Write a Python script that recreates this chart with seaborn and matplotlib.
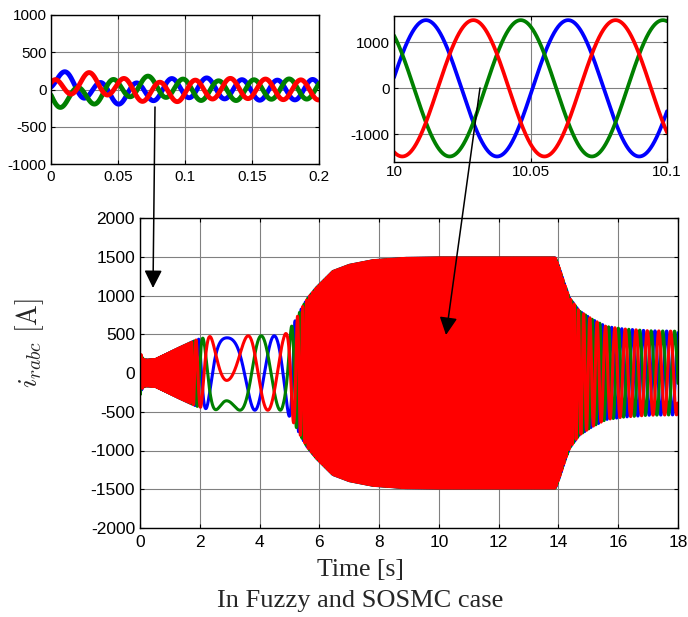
import numpy as np
import pandas as pd
import matplotlib
matplotlib.use("Agg")
import matplotlib.pyplot as plt
import seaborn as sns
from matplotlib.patches import FancyArrowPatch

# ---- data ----
# envelope of the rotor currents in the main plot
env_t = [0, 0.5, 0.85, 1.3, 1.9, 2.3, 3.0, 4.8, 5.0, 5.2, 5.4, 5.6, 5.9, 6.45, 7.0, 7.8,
         8.9, 10.0, 13.9, 14.03, 14.2, 14.37, 14.7, 15.14, 15.6, 16.15, 17.0, 18.0]
env_a = [160, 170, 235, 320, 430, 470, 480, 480, 560, 680, 830, 960, 1100, 1310, 1390, 1450,
         1480, 1485, 1485, 1350, 1150, 970, 800, 690, 600, 570, 545, 540]

# slip frequency (sign gives the phase sequence)
freq_t = [0, 0.4, 0.8, 1.2, 1.5, 1.7, 1.85, 2.0, 2.15, 2.3, 2.5, 2.7, 2.9, 3.1, 3.4, 3.8,
          4.2, 4.6, 4.9, 5.1, 5.3, 5.6, 6.0, 7.0, 8.0, 9.0, 10.0, 13.9, 14.1, 14.4, 14.7,
          15.0, 15.5, 16.0, 17.0, 18.0]
freq_hz = [-38, -38, -34, -25, -16, -10, -5, -2.6, -1.6, -1.1, -0.7, -0.35, 0, 0.25, 0.55, 0.8,
           0.75, 0.8, 1.1, 2.5, 5, 9, 12, 16, 18, 19, 19.2, 19.2, 15, 9, 6,
           4.5, 3.4, 2.9, 2.6, 2.5]
t_turn = 2.9          # where the sequence reverses
theta_turn_deg = 108.5

# start-up transient (decaying offset per phase)
tr_amp = 150
tr_tau = 0.06
tr_freq = 9.0
tr_shift_deg = {'a': 0, 'b': -100, 'c': 120}

# zoom 1: 0 .. 0.2 s
inset1_amp = 135
inset1_freq = -38
inset1_theta0_deg = 240.6

# zoom 2: 10 .. 10.1 s
inset2_amp = 1480
inset2_freq = 19.2
inset2_blue_peak = 10.0117

phase_order = ['a', 'c', 'b']          # blue, green, red (red on top)
phase_colors = {'a': '#0000ff', 'b': '#ff0000', 'c': '#008000'}
phase_shift_deg = {'a': 0, 'b': -120, 'c': 120}


def three_phase(t, theta, amp, transient=False):
    frames = []
    for name in phase_order:
        y = amp * np.sin(theta + np.deg2rad(phase_shift_deg[name]))
        if transient:
            y = y + tr_amp * np.exp(-t / tr_tau) * np.cos(2 * np.pi * tr_freq * t + np.deg2rad(tr_shift_deg[name]))
        frames.append(pd.DataFrame({'t': t, 'i': y, 'phase': name}))
    return pd.concat(frames, ignore_index=True)


# main signal
t_main = np.linspace(0, 18, 90001)
f_main = np.interp(t_main, freq_t, freq_hz)
cycles = np.concatenate([[0], np.cumsum((f_main[1:] + f_main[:-1]) / 2 * np.diff(t_main))])
cycles -= np.interp(t_turn, t_main, cycles)
theta_main = np.deg2rad(theta_turn_deg) + 2 * np.pi * cycles
df_main = three_phase(t_main, theta_main, np.interp(t_main, env_t, env_a), transient=True)

t1 = np.linspace(0, 0.2, 4001)
df_1 = three_phase(t1, np.deg2rad(inset1_theta0_deg) + 2 * np.pi * inset1_freq * t1,
                   inset1_amp, transient=True)

t2 = np.linspace(10, 10.1, 2001)
df_2 = three_phase(t2, np.pi / 2 + 2 * np.pi * inset2_freq * (t2 - inset2_blue_peak), inset2_amp)

# ---- style ----
sns.set_theme(style="ticks")
plt.rcParams['font.family'] = ['Liberation Sans', 'DejaVu Sans']
plt.rcParams['axes.unicode_minus'] = False
plt.rcParams['mathtext.fontset'] = 'cm'
plt.rcParams['xtick.direction'] = 'in'
plt.rcParams['ytick.direction'] = 'in'
plt.rcParams['xtick.top'] = True
plt.rcParams['ytick.right'] = True

W, H = 688, 617
fig = plt.figure(figsize=(W / 100, H / 100), dpi=100)


def box(left, top, right, bottom):
    return [left / W, 1 - bottom / H, (right - left) / W, (bottom - top) / H]


def style_axes(ax, size, xpad, ypad):
    ax.grid(True, color='#808080', lw=0.8)
    ax.set_axisbelow(True)
    for s in ax.spines.values():
        s.set_color('black')
        s.set_linewidth(1.0)
    ax.tick_params(axis='both', colors='black', labelsize=size, length=3, width=0.8)
    ax.tick_params(axis='x', pad=xpad)
    ax.tick_params(axis='y', pad=ypad)
    ax.set_xlabel('')
    ax.set_ylabel('')


ax = fig.add_axes(box(140, 218, 678, 528))
ax1 = fig.add_axes(box(51, 15, 319, 164))
ax2 = fig.add_axes(box(394, 16, 667, 162))

for a, df, lw in [(ax, df_main, 2.2), (ax1, df_1, 3.5), (ax2, df_2, 2.7)]:
    sns.lineplot(data=df, x='t', y='i', hue='phase', hue_order=phase_order,
                 palette=phase_colors, estimator=None, sort=False, lw=lw,
                 legend=False, ax=a)

ax.set_xlim(0, 18)
ax.set_ylim(-2000, 2000)
ax.set_xticks(range(0, 19, 2))
ax.set_yticks(range(-2000, 2001, 500))
style_axes(ax, 12.5, 5, 3.6)

ax1.set_xlim(0, 0.2)
ax1.set_ylim(-1000, 1000)
ax1.set_xticks([0, 0.05, 0.1, 0.15, 0.2])
ax1.set_xticklabels(['0', '0.05', '0.1', '0.15', '0.2'])
ax1.set_yticks(range(-1000, 1001, 500))
style_axes(ax1, 11, 4.5, 3)

ax2.set_xlim(10, 10.1)
ax2.set_ylim(-1600, 1570)
ax2.set_xticks([10, 10.05, 10.1])
ax2.set_xticklabels(['10', '10.05', '10.1'])
ax2.set_yticks([-1000, 0, 1000])
style_axes(ax2, 11, 2, 3)

# labels
fig.text(30 / W, 1 - 343 / H, r'$i_{rabc}\ [\mathrm{A}]$', rotation=90,
         ha='center', va='center', fontsize=20)
fig.text(360 / W, 1 - 576 / H, 'Time [s]', ha='center', va='baseline',
         fontsize=18.5, family='Liberation Serif')
fig.text(360 / W, 1 - 607 / H, 'In Fuzzy and SOSMC case', ha='center', va='baseline',
         fontsize=19, family='Liberation Serif')

# arrows from the zooms down to the main plot
for (x0, y0), (x1, y1) in [((155, 107), (153, 288)), ((480, 88), (446, 335))]:
    fig.add_artist(FancyArrowPatch((x0 / W, 1 - y0 / H), (x1 / W, 1 - y1 / H),
                                   transform=fig.transFigure,
                                   arrowstyle='-|>,head_length=10.8,head_width=5.4',
                                   mutation_scale=1, lw=1.1, color='black',
                                   shrinkA=0, shrinkB=0))

fig.savefig('out.png', dpi=100)
